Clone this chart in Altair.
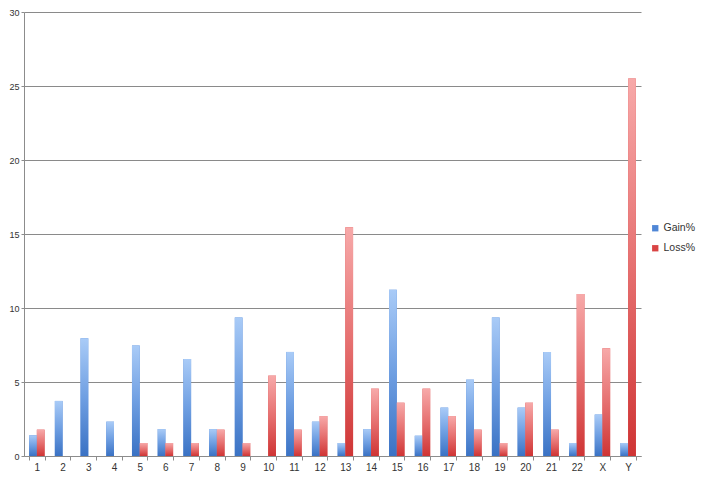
import altair as alt
import pandas as pd

categories = ["1", "2", "3", "4", "5", "6", "7", "8", "9", "10", "11", "12",
              "13", "14", "15", "16", "17", "18", "19", "20", "21", "22", "X", "Y"]
gain = [1.4, 3.72, 7.95, 2.32, 7.46, 1.82, 6.55, 1.82, 9.35, None, 7.03, 2.32,
        0.88, 1.82, 11.24, 1.37, 3.27, 5.16, 9.35, 3.27, 7.03, 0.88, 2.8, 0.88]
loss = [1.78, None, None, None, 0.88, 0.88, 0.88, 1.78, 0.88, 5.43, 1.78, 2.7,
        15.45, 4.55, 3.6, 4.55, 2.7, 1.78, 0.88, 3.6, 1.78, 10.95, 7.28, 25.5]
series = ["Gain%", "Loss%"]
series_colors = ["#4f86d6", "#d94444"]
y_ticks = [0, 5, 10, 15, 20, 25, 30]

rows = []
for c, g, l in zip(categories, gain, loss):
    if g is not None:
        rows.append({"cat": c, "series": "Gain%", "value": g})
    if l is not None:
        rows.append({"cat": c, "series": "Loss%", "value": l})
df = pd.DataFrame(rows)

grad_blue = alt.LinearGradient(
    gradient="linear", x1=0, y1=0, x2=0, y2=1,
    stops=[alt.GradientStop(offset=0, color="#a9cbf7"),
           alt.GradientStop(offset=0.5, color="#6f9fe2"),
           alt.GradientStop(offset=1, color="#3a72c4")])
grad_red = alt.LinearGradient(
    gradient="linear", x1=0, y1=0, x2=0, y2=1,
    stops=[alt.GradientStop(offset=0, color="#f7a9a9"),
           alt.GradientStop(offset=0.5, color="#e67070"),
           alt.GradientStop(offset=1, color="#cf3434")])

x_enc = alt.X("cat:N", sort=categories,
              scale=alt.Scale(paddingInner=0.4, paddingOuter=0.2),
              axis=alt.Axis(title=None, labelAngle=0, tickBand="extent",
                            tickSize=4, labelPadding=2, labelFontSize=10,
                            labelColor="#333333", domainColor="#8c8c8c",
                            tickColor="#8c8c8c", grid=False,
                            labelFont="Liberation Sans"))
xo_enc = alt.XOffset("series:N", scale=alt.Scale(domain=series))
y_enc = alt.Y("value:Q", scale=alt.Scale(domain=[0, 30], nice=False),
              axis=alt.Axis(title=None, values=y_ticks, tickSize=3,
                            labelPadding=2, labelFontSize=9,
                            labelColor="#333333", domainColor="#8c8c8c",
                            tickColor="#8c8c8c", gridColor="#8a8a8a",
                            labelFont="Liberation Sans"))

base = alt.Chart(df).mark_bar().encode(
    x=x_enc, xOffset=xo_enc, y=y_enc,
    color=alt.Color("series:N",
                    scale=alt.Scale(domain=series, range=series_colors),
                    legend=alt.Legend(title=None, orient="none", legendX=626,
                                      legendY=211, symbolType="square",
                                      symbolSize=40, labelFontSize=10.5,
                                      labelColor="#333333", rowPadding=9,
                                      labelOffset=3,
                                      padding=0, labelFont="Liberation Sans")))

gain_layer = alt.Chart(df).transform_filter(alt.datum.series == "Gain%").mark_bar(
    fill=grad_blue).encode(x=x_enc, xOffset=xo_enc, y=y_enc)
loss_layer = alt.Chart(df).transform_filter(alt.datum.series == "Loss%").mark_bar(
    fill=grad_red).encode(x=x_enc, xOffset=xo_enc, y=y_enc)

chart = alt.layer(base, gain_layer, loss_layer).properties(
    width=617, height=444,
    autosize=alt.AutoSizeParams(type="none"),
    padding={"left": 16, "top": 4, "right": 57, "bottom": 20},
).configure_view(stroke=None)

chart.save("out.html", embed_options={"renderer": "svg", "actions": False})
